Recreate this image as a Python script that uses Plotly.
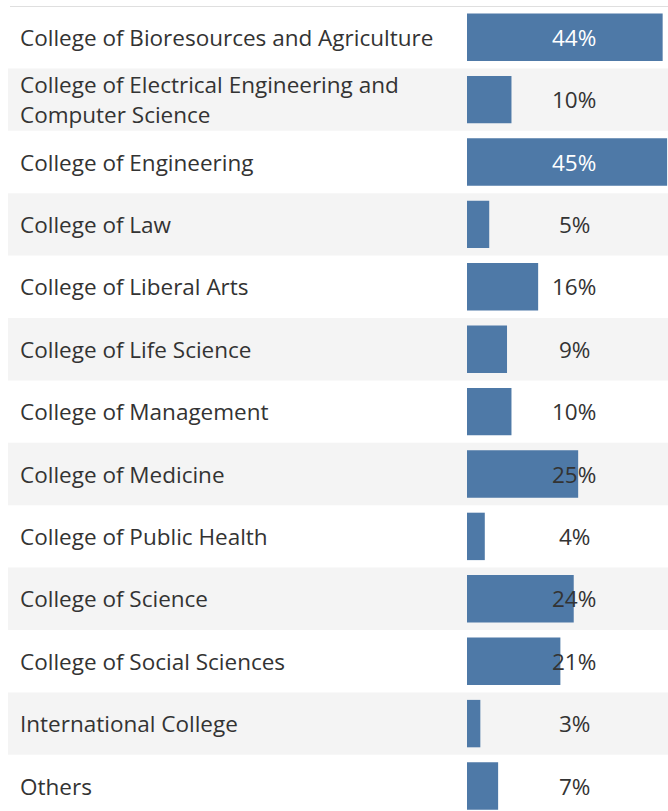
import plotly.graph_objects as go

colleges = [
    "College of Bioresources and Agriculture",
    "College of Electrical Engineering and\nComputer Science",
    "College of Engineering",
    "College of Law",
    "College of Liberal Arts",
    "College of Life Science",
    "College of Management",
    "College of Medicine",
    "College of Public Health",
    "College of Science",
    "College of Social Sciences",
    "International College",
    "Others",
]
shares = [44, 10, 45, 5, 16, 9, 10, 25, 4, 24, 21, 3, 7]

BAR_COLOR = "#4e79a7"
BAND_COLOR = "#f4f4f4"
TEXT_COLOR = "#333333"
FONT = "Open Sans"
FONT_SIZE = 22.5
W, H = 668, 811
TOP = 6
ROW_PX = 62.4

ycats = list(range(len(colleges)))

fig = go.Figure(
    go.Bar(
        x=shares,
        y=ycats,
        orientation="h",
        width=0.76,
        marker=dict(color=BAR_COLOR, line=dict(width=0)),
        hoverinfo="skip",
    )
)

shapes = []
annotations = []
for i, (name, share) in enumerate(zip(colleges, shares)):
    if i % 2 == 1:
        shapes.append(
            dict(
                type="rect", xref="paper", yref="y", layer="below",
                x0=8 / W, x1=1, y0=i - 0.5, y1=i + 0.5,
                fillcolor=BAND_COLOR, line=dict(width=0),
            )
        )
    lines = name.split("\n")
    offsets = [0] if len(lines) == 1 else [15, -15]
    for line, dy in zip(lines, offsets):
        annotations.append(
            dict(
                text=line, xref="paper", yref="y", x=18 / W, y=i,
                xanchor="left", yanchor="middle", yshift=dy, showarrow=False,
                font=dict(family=FONT, size=FONT_SIZE, color=TEXT_COLOR),
            )
        )
    annotations.append(
        dict(
            text=f"{share}%", xref="paper", yref="y", x=574 / W, y=i,
            xanchor="center", yanchor="middle", showarrow=False,
            font=dict(family=FONT, size=FONT_SIZE,
                      color="white" if share >= 40 else TEXT_COLOR),
        )
    )

shapes.append(
    dict(
        type="line", xref="paper", yref="y", x0=10 / W, x1=1,
        y0=-0.5, y1=-0.5, line=dict(color="#d4d4d4", width=1.5),
    )
)

# the last row runs past the bottom edge of the window, as in the original
y_bottom = -0.5 + (H - TOP) / ROW_PX

fig.update_layout(
    width=W,
    height=H,
    margin=dict(l=0, r=0, t=TOP, b=0),
    paper_bgcolor="white",
    plot_bgcolor="rgba(0,0,0,0)",
    showlegend=False,
    shapes=shapes,
    annotations=annotations,
    xaxis=dict(domain=[467 / W, 1], range=[0, 45.2], visible=False, fixedrange=True),
    yaxis=dict(range=[y_bottom, -0.5], visible=False, fixedrange=True),
)

# drop the default body margin so the figure sits flush in the window
fig.write_html(
    "out.html",
    config=dict(displayModeBar=False),
    post_script="document.body.style.margin='0';",
)
